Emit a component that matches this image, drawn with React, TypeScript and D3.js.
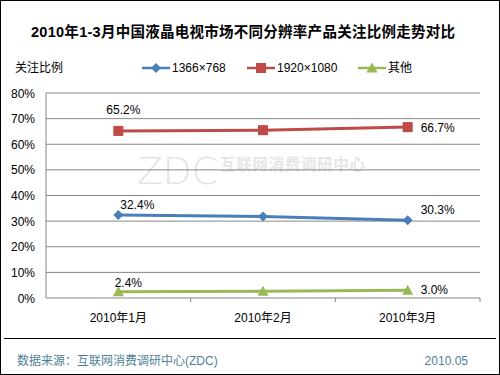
import React from "react";
import * as d3 from "d3";

const categories = ["2010年1月", "2010年2月", "2010年3月"];
const seriesNames = ["1366×768", "1920×1080", "其他"];
const s1366 = [32.4, 31.8, 30.3];
const s1920 = [65.2, 65.5, 66.7];
const sOther = [2.4, 2.6, 3.0];
const yTicks = [0, 10, 20, 30, 40, 50, 60, 70, 80];
const colors = ["#4a7ebb", "#be4b48", "#98b954"];

const W = 500, H = 375;
const left = 46, right = 480, top = 93, bottom = 298;
const font = "'Liberation Sans', Arial, 'Noto Sans CJK SC', sans-serif";

export default function App() {
  const x = d3.scaleBand<string>().domain(categories).range([left, right]);
  const y = d3.scaleLinear().domain([0, 80]).range([bottom, top]);
  const cx = (c: string) => (x(c) as number) + x.bandwidth() / 2;
  const series = [s1366, s1920, sOther];
  const line = d3.line<number>().x((_, i) => cx(categories[i])).y((d) => y(d));

  const marker = (k: number, px: number, py: number, key: string) => {
    if (k === 0) {
      return <path key={key} d={`M${px - 5},${py} L${px},${py - 5} L${px + 5},${py} L${px},${py + 5} Z`} fill={colors[0]} />;
    }
    if (k === 1) {
      return <rect key={key} x={px - 5} y={py - 5} width={10} height={10} fill={colors[1]} />;
    }
    return <path key={key} d={`M${px - 5.5},${py + 4.5} L${px},${py - 5.5} L${px + 5.5},${py + 4.5} Z`} fill={colors[2]} />;
  };

  const labelPos: { i: number; k: number; dx: number; dy: number; anchor: string }[] = [
    { k: 1, i: 0, dx: 5, dy: -17, anchor: "middle" },
    { k: 0, i: 0, dx: 19, dy: -6, anchor: "middle" },
    { k: 2, i: 0, dx: 10, dy: -5, anchor: "middle" },
    { k: 1, i: 2, dx: 13, dy: 5, anchor: "start" },
    { k: 0, i: 2, dx: 13, dy: -6, anchor: "start" },
    { k: 2, i: 2, dx: 13, dy: 4, anchor: "start" },
  ];

  const legendX = [142, 247, 358];

  return (
    <svg width={W} height={H} style={{ position: "absolute", left: 0, top: 0, fontFamily: font }}>
      <rect x={0.5} y={0.5} width={W - 1} height={H - 1} fill="#fff" stroke="#000" />
      <text x={243} y={37} textAnchor="middle" fontSize={14.5} fontWeight="bold" fill="#000" textLength={424}>
        2010年1-3月中国液晶电视市场不同分辨率产品关注比例走势对比
      </text>
      <text x={15} y={72} fontSize={12} fill="#000">关注比例</text>
      {seriesNames.map((n, k) => (
        <g key={n}>
          <line x1={legendX[k]} x2={legendX[k] + 28} y1={68} y2={68} stroke={colors[k]} strokeWidth={2.5} />
          {marker(k, legendX[k] + 14, 68, "lm" + k)}
          <text x={legendX[k] + 30} y={72} fontSize={12} fill="#000">{n}</text>
        </g>
      ))}
      {/* watermark */}
      <text x={137} y={184} fontSize={38} fill="#e4e4e4" fontFamily="'DejaVu Sans', sans-serif" fontWeight={200} textLength={81} lengthAdjust="spacing">ZDC</text>
      <text x={220} y={170} fontSize={15.5} fontWeight="bold" fill="#e6e6e6" textLength={145}>互联网消费调研中心</text>

      {yTicks.map((t) => (
        <g key={t}>
          {t > 0 && <line x1={left} x2={right} y1={y(t)} y2={y(t)} stroke="#868686" strokeWidth={1} />}
          <text x={35} y={y(t) + 4.5} textAnchor="end" fontSize={12} fill="#000">{t}%</text>
        </g>
      ))}
      <line x1={left} x2={left} y1={top} y2={bottom} stroke="#868686" />
      <line x1={left} x2={right} y1={bottom} y2={bottom} stroke="#868686" />
      {categories.map((c, i) => (
        <g key={c}>
          <line x1={(x(c) as number) + x.bandwidth()} x2={(x(c) as number) + x.bandwidth()} y1={bottom} y2={bottom + 4} stroke="#868686" />
          <text x={cx(c)} y={322} textAnchor="middle" fontSize={12} fill="#000">{c}</text>
        </g>
      ))}
      {series.map((s, k) => (
        <g key={k}>
          <path d={line(s) || ""} fill="none" stroke={colors[k]} strokeWidth={3} />
          {s.map((v, i) => marker(k, cx(categories[i]), y(v), `m${k}-${i}`))}
        </g>
      ))}
      {labelPos.map((p) => (
        <text key={`${p.k}-${p.i}`} x={cx(categories[p.i]) + p.dx} y={y(series[p.k][p.i]) + p.dy} textAnchor={p.anchor as any} fontSize={12} fill="#000">
          {series[p.k][p.i].toFixed(1)}%
        </text>
      ))}
      <line x1={4} x2={496} y1={338.5} y2={338.5} stroke="#000" />
      <text x={17} y={365} fontSize={12} fill="#4f7f9a">数据来源：互联网消费调研中心(ZDC)</text>
      <text x={468} y={365} textAnchor="end" fontSize={12} fill="#4f7f9a">2010.05</text>
    </svg>
  );
}
